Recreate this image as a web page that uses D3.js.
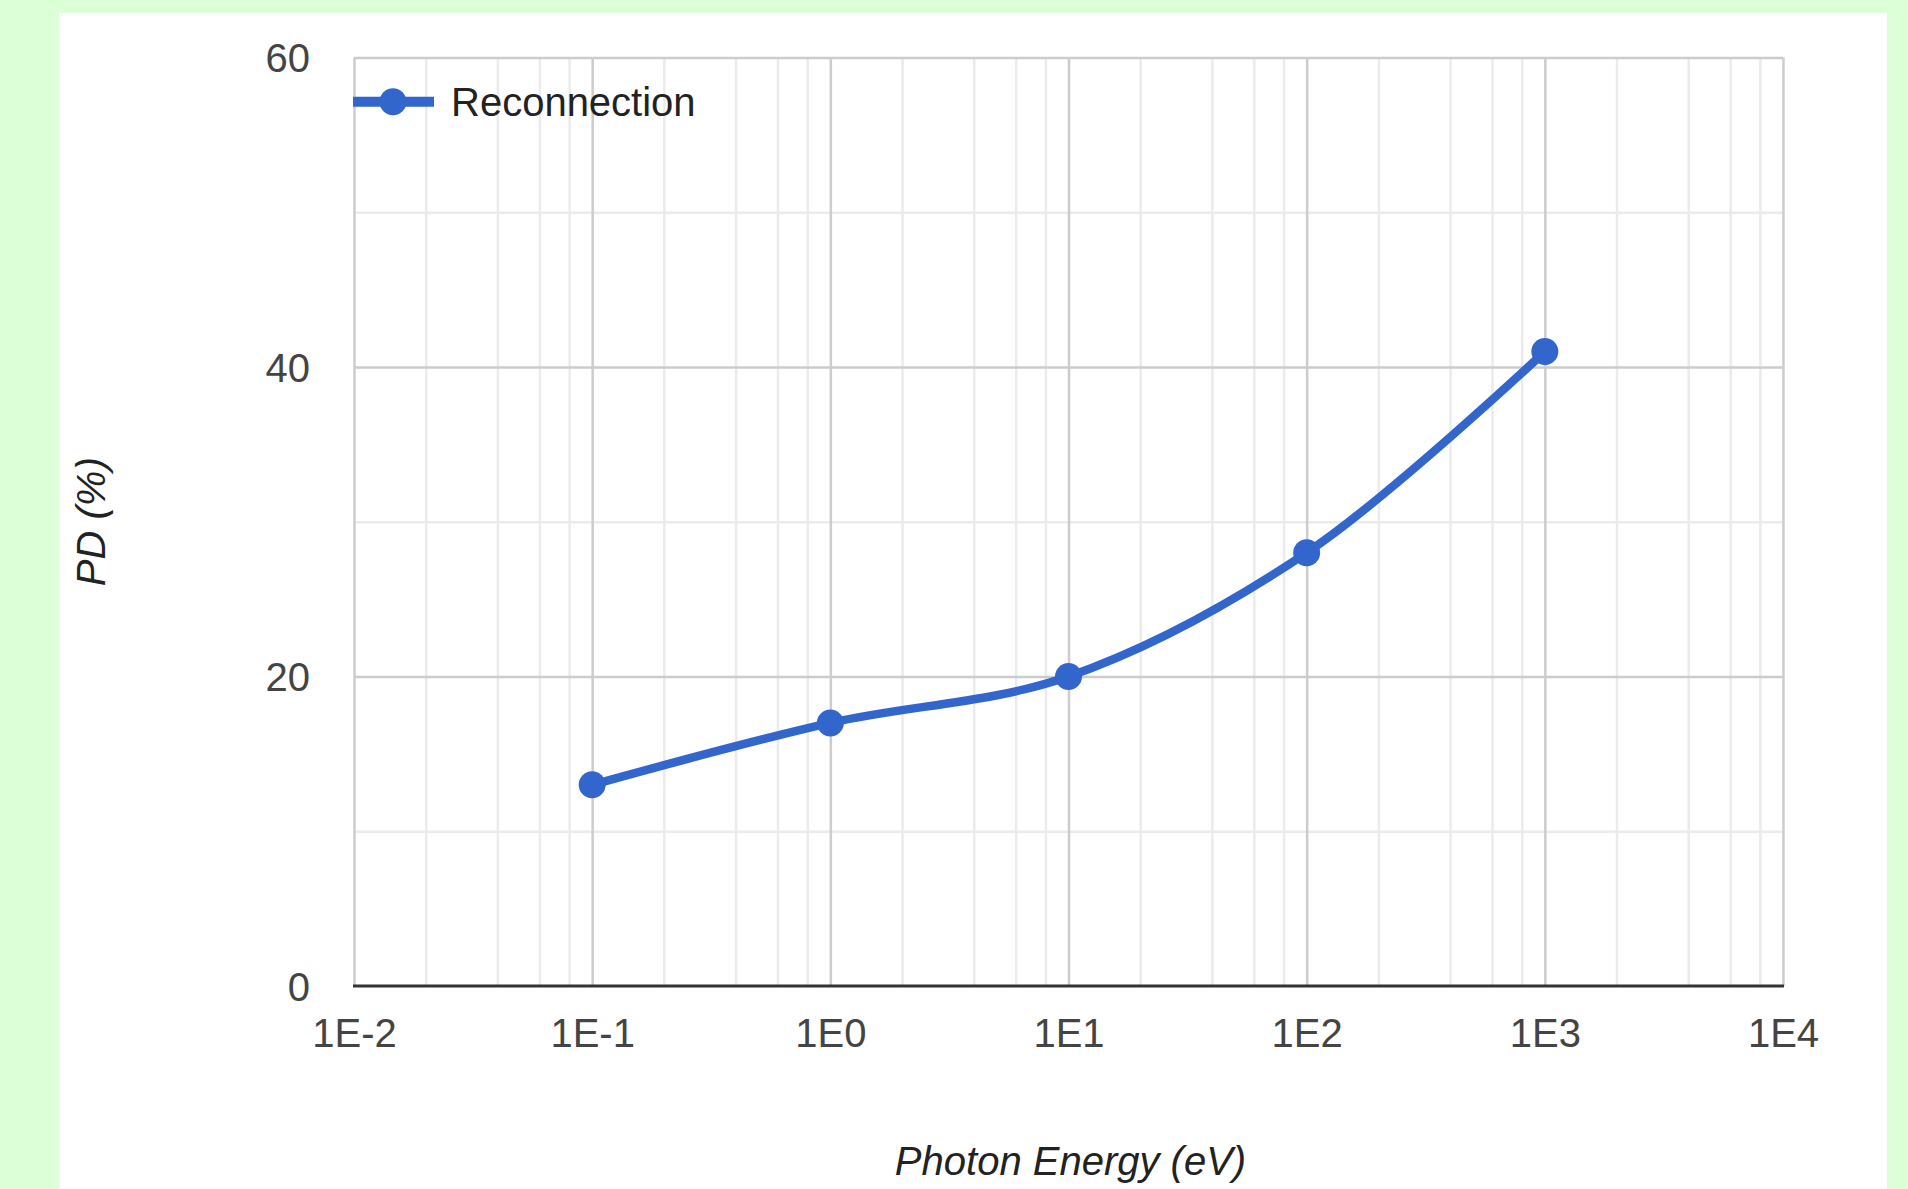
<!DOCTYPE html>
<html>
<head>
<meta charset="utf-8">
<script src="https://cdn.jsdelivr.net/npm/d3@7"></script>
<style>
  html, body { margin: 0; padding: 0; background: #ddffd8; }
  svg { display: block; }
</style>
</head>
<body>
<svg id="chart" width="1908" height="1189"></svg>
<script>
// ---- data ----
const seriesName = "Reconnection";
const energies = [0.1, 1, 10, 100, 1000];
const pdValues = [13, 17, 20, 28, 41];
const xMajorTicks = [1e-2, 1e-1, 1e0, 1e1, 1e2, 1e3, 1e4];
const xTickLabels = ["1E-2", "1E-1", "1E0", "1E1", "1E2", "1E3", "1E4"];
const xMinorMultiples = [2, 4, 6, 8];
const yMajorTicks = [0, 20, 40, 60];
const yMinorTicks = [10, 30, 50];
const xTitle = "Photon Energy (eV)";
const yTitle = "PD (%)";

// ---- layout ----
const W = 1908, H = 1189;
const plot = { left: 354, right: 1783, top: 57.5, bottom: 986 };
const font = "'Liberation Sans', Arial, sans-serif";
const fs = "40px";
const blue = "#3366cc";

const svg = d3.select("#chart");
svg.append("rect").attr("x", 0).attr("y", 0).attr("width", W).attr("height", H).attr("fill", "#ddffd8");
svg.append("rect").attr("x", 59).attr("y", 13).attr("width", 1828).attr("height", H - 13).attr("fill", "#ffffff");

const x = d3.scaleLog().domain([1e-2, 1e4]).range([plot.left, plot.right]);
const y = d3.scaleLinear().domain([0, 60]).range([plot.bottom, plot.top]);
const ph = plot.bottom - plot.top, pw = plot.right - plot.left;

const xMinor = [];
xMajorTicks.slice(0, -1).forEach(d => xMinorMultiples.forEach(m => xMinor.push(d * m)));

function styleGrid(g, color, width) {
  g.select(".domain").remove();
  g.selectAll(".tick line").attr("stroke", color).attr("stroke-width", width);
  g.selectAll(".tick text").remove();
}

// minor grid
svg.append("g").attr("transform", `translate(0,${plot.bottom})`)
  .call(d3.axisBottom(x).tickValues(xMinor).tickSize(-ph).tickFormat(""))
  .call(g => styleGrid(g, "#ebebeb", 2.5));
svg.append("g").attr("transform", `translate(${plot.left},0)`)
  .call(d3.axisLeft(y).tickValues(yMinorTicks).tickSize(-pw).tickFormat(""))
  .call(g => styleGrid(g, "#ebebeb", 2.5));
// major grid
svg.append("g").attr("transform", `translate(0,${plot.bottom})`)
  .call(d3.axisBottom(x).tickValues(xMajorTicks).tickSize(-ph).tickFormat(""))
  .call(g => styleGrid(g, "#cccccc", 2.5));
svg.append("g").attr("transform", `translate(${plot.left},0)`)
  .call(d3.axisLeft(y).tickValues(yMajorTicks.filter(v => v !== 0)).tickSize(-pw).tickFormat(""))
  .call(g => styleGrid(g, "#cccccc", 2.5));

// baseline
svg.append("line").attr("x1", plot.left - 1).attr("x2", plot.right + 1)
  .attr("y1", plot.bottom).attr("y2", plot.bottom)
  .attr("stroke", "#333333").attr("stroke-width", 3);

// x tick labels
const xAxis = svg.append("g").attr("transform", `translate(0,${plot.bottom})`)
  .call(d3.axisBottom(x).tickValues(xMajorTicks).tickSize(0)
    .tickFormat((d, i) => xTickLabels[i]));
xAxis.select(".domain").remove();
xAxis.selectAll(".tick text")
  .attr("y", 61).attr("dy", null)
  .attr("fill", "#444444").style("font-family", font).style("font-size", fs);

// y tick labels
const yAxis = svg.append("g").attr("transform", `translate(${plot.left},0)`)
  .call(d3.axisLeft(y).tickValues(yMajorTicks).tickSize(0).tickFormat(d3.format("d")));
yAxis.select(".domain").remove();
yAxis.selectAll(".tick text")
  .attr("x", -44).attr("dy", "0.36em")
  .attr("fill", "#444444").style("font-family", font).style("font-size", fs);

// axis titles
svg.append("text").attr("x", (plot.left + plot.right) / 2 + 2).attr("y", 1175)
  .attr("text-anchor", "middle").attr("fill", "#222222")
  .style("font-family", font).style("font-size", fs).style("font-style", "italic")
  .text(xTitle);
svg.append("text").attr("transform", `translate(105,${(plot.top + plot.bottom) / 2}) rotate(-90)`)
  .attr("text-anchor", "middle").attr("fill", "#222222")
  .style("font-family", font).style("font-size", fs).style("font-style", "italic")
  .text(yTitle);

// series
const pts = energies.map((e, i) => [e, pdValues[i]]);
const line = d3.line().x(d => x(d[0])).y(d => y(d[1])).curve(d3.curveCatmullRom.alpha(0.5));
svg.append("path").datum(pts).attr("d", line)
  .attr("fill", "none").attr("stroke", blue).attr("stroke-width", 8.5)
  .attr("stroke-linejoin", "round").attr("stroke-linecap", "round");
svg.append("g").selectAll("circle").data(pts).join("circle")
  .attr("cx", d => x(d[0])).attr("cy", d => y(d[1])).attr("r", 13.5).attr("fill", blue);

// legend
const lg = svg.append("g");
lg.append("line").attr("x1", 353).attr("x2", 434).attr("y1", 101.7).attr("y2", 101.7)
  .attr("stroke", blue).attr("stroke-width", 10);
lg.append("circle").attr("cx", 393).attr("cy", 101.7).attr("r", 13.5).attr("fill", blue);
lg.append("text").attr("x", 451).attr("y", 101.7).attr("dy", "0.36em")
  .attr("fill", "#222222").style("font-family", font).style("font-size", fs)
  .text(seriesName);
</script>
</body>
</html>
